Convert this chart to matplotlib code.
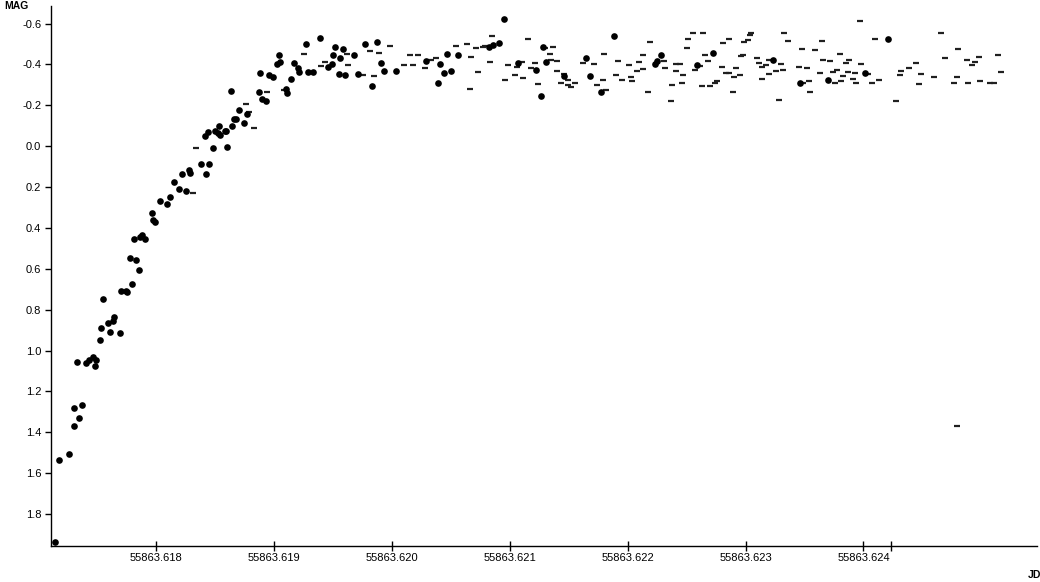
import numpy as np
import matplotlib.pyplot as plt

plt.rcParams['font.family'] = ['Liberation Sans', 'DejaVu Sans']
plt.rcParams['axes.unicode_minus'] = False

# measured points (filled circles)
dot_jd = [
    55863.61714, 55863.61717, 55863.61726, 55863.61730, 55863.61730, 55863.61734, 55863.61737,
    55863.61733, 55863.61740, 55863.61743, 55863.61746, 55863.61748, 55863.61749, 55863.61752,
    55863.61753, 55863.61755, 55863.61759, 55863.61761, 55863.61763, 55863.61764, 55863.61769,
    55863.61770, 55863.61774, 55863.61775, 55863.61779, 55863.61778, 55863.61783, 55863.61785,
    55863.61781, 55863.61786, 55863.61788, 55863.61790, 55863.61796, 55863.61797, 55863.61799,
    55863.61803, 55863.61809, 55863.61812, 55863.61815, 55863.61819, 55863.61825, 55863.61822,
    55863.61828, 55863.61829, 55863.61838, 55863.61842, 55863.61841, 55863.61844, 55863.61845,
    55863.61848, 55863.61850, 55863.61852, 55863.61853, 55863.61854, 55863.61858, 55863.61859,
    55863.61860, 55863.61863, 55863.61864, 55863.61866, 55863.61868, 55863.61870, 55863.61874,
    55863.61877, 55863.61887, 55863.61888, 55863.61890, 55863.61893, 55863.61896, 55863.61899,
    55863.61902, 55863.61904, 55863.61905, 55863.61910, 55863.61911, 55863.61914, 55863.61917,
    55863.61920, 55863.61921, 55863.61927, 55863.61929, 55863.61933, 55863.61939, 55863.61946,
    55863.61949, 55863.61950, 55863.61952, 55863.61955, 55863.61956, 55863.61958, 55863.61960,
    55863.61968, 55863.61971, 55863.61977, 55863.61983, 55863.61987, 55863.61991, 55863.61993,
    55863.62003, 55863.62029, 55863.62039, 55863.62041, 55863.62044, 55863.62047, 55863.62050,
    55863.62056, 55863.62082, 55863.62086, 55863.62091, 55863.62095, 55863.62107, 55863.62122,
    55863.62126, 55863.62128, 55863.62131, 55863.62146, 55863.62165, 55863.62168, 55863.62177,
    55863.62188, 55863.62223, 55863.62225, 55863.62228, 55863.62259, 55863.62272, 55863.62323,
    55863.62346, 55863.62370, 55863.62401, 55863.62421,
]
dot_mag = [
    1.938, 1.537, 1.508, 1.371, 1.283, 1.332, 1.268,
    1.058, 1.063, 1.048, 1.033, 1.077, 1.048, 0.950,
    0.891, 0.750, 0.867, 0.911, 0.857, 0.838, 0.916,
    0.711, 0.711, 0.715, 0.676, 0.549, 0.559, 0.608,
    0.456, 0.446, 0.437, 0.456, 0.329, 0.363, 0.373,
    0.270, 0.285, 0.251, 0.173, 0.212, 0.217, 0.138,
    0.119, 0.129, 0.085, 0.138, -0.052, -0.067, 0.089,
    0.011, -0.072, -0.062, -0.101, -0.057, -0.072, -0.072,
    0.006, -0.272, -0.101, -0.131, -0.131, -0.179, -0.111,
    -0.155, -0.263, -0.356, -0.233, -0.219, -0.346, -0.336,
    -0.400, -0.448, -0.414, -0.282, -0.258, -0.331, -0.409,
    -0.380, -0.365, -0.502, -0.365, -0.365, -0.527, -0.385,
    -0.404, -0.448, -0.483, -0.351, -0.429, -0.476, -0.346,
    -0.448, -0.351, -0.502, -0.292, -0.512, -0.409, -0.370,
    -0.370, -0.419, -0.311, -0.400, -0.360, -0.453, -0.370,
    -0.448, -0.483, -0.497, -0.507, -0.624, -0.409, -0.375,
    -0.243, -0.483, -0.414, -0.341, -0.429, -0.341, -0.267,
    -0.541, -0.404, -0.419, -0.444, -0.395, -0.458, -0.424,
    -0.307, -0.326, -0.356, -0.522,
]

# short dashes
dash_jd = [
    55863.61831, 55863.61834, 55863.61876, 55863.61879, 55863.61883, 55863.61894, 55863.61908,
    55863.61925, 55863.61940, 55863.61943, 55863.61962, 55863.61963, 55863.61975, 55863.61981,
    55863.61985, 55863.61989, 55863.61998, 55863.62010, 55863.62015, 55863.62018, 55863.62022,
    55863.62028, 55863.62033, 55863.62037, 55863.62054, 55863.62064, 55863.62066, 55863.62067,
    55863.62071, 55863.62073, 55863.62077, 55863.62079, 55863.62083, 55863.62085, 55863.62096,
    55863.62098, 55863.62104, 55863.62106, 55863.62110, 55863.62111, 55863.62115, 55863.62118,
    55863.62121, 55863.62124, 55863.62130, 55863.62134, 55863.62135, 55863.62137, 55863.62140,
    55863.62140, 55863.62143, 55863.62146, 55863.62149, 55863.62149, 55863.62152, 55863.62155,
    55863.62162, 55863.62171, 55863.62174, 55863.62179, 55863.62180, 55863.62182, 55863.62190,
    55863.62192, 55863.62195, 55863.62201, 55863.62203, 55863.62204, 55863.62208, 55863.62210,
    55863.62213, 55863.62213, 55863.62217, 55863.62219, 55863.62231, 55863.62232, 55863.62237,
    55863.62238, 55863.62241, 55863.62241, 55863.62244, 55863.62246, 55863.62247, 55863.62250,
    55863.62251, 55863.62255, 55863.62257, 55863.62261, 55863.62263, 55863.62264, 55863.62266,
    55863.62268, 55863.62270, 55863.62274, 55863.62276, 55863.62280, 55863.62281, 55863.62283,
    55863.62286, 55863.62286, 55863.62289, 55863.62290, 55863.62292, 55863.62295, 55863.62296,
    55863.62298, 55863.62299, 55863.62302, 55863.62304, 55863.62305, 55863.62310, 55863.62311,
    55863.62314, 55863.62314, 55863.62317, 55863.62320, 55863.62320, 55863.62326, 55863.62328,
    55863.62330, 55863.62332, 55863.62333, 55863.62336, 55863.62345, 55863.62348, 55863.62349,
    55863.62352, 55863.62354, 55863.62355, 55863.62359, 55863.62363, 55863.62365, 55863.62366,
    55863.62372, 55863.62374, 55863.62376, 55863.62378, 55863.62380, 55863.62381, 55863.62383,
    55863.62385, 55863.62387, 55863.62388, 55863.62391, 55863.62393, 55863.62394, 55863.62397,
    55863.62398, 55863.62404, 55863.62407, 55863.62410, 55863.62413, 55863.62428, 55863.62431,
    55863.62432, 55863.62439, 55863.62445, 55863.62447, 55863.62449, 55863.62460, 55863.62466,
    55863.62469, 55863.62477, 55863.62479, 55863.62480, 55863.62488, 55863.62489, 55863.62492,
    55863.62495, 55863.62498, 55863.62499, 55863.62507, 55863.62511, 55863.62514, 55863.62517,
    55863.62479,
]
dash_mag = [
    0.231, 0.011, -0.204, -0.165, -0.087, -0.266, -0.277,
    -0.451, -0.393, -0.412, -0.453, -0.395, -0.346, -0.465,
    -0.341, -0.458, -0.488, -0.395, -0.446, -0.395, -0.444,
    -0.381, -0.424, -0.429, -0.492, -0.502, -0.280, -0.434,
    -0.478, -0.365, -0.486, -0.492, -0.412, -0.541, -0.326,
    -0.395, -0.346, -0.385, -0.414, -0.334, -0.522, -0.381,
    -0.409, -0.302, -0.478, -0.451, -0.424, -0.483, -0.368,
    -0.416, -0.311, -0.351, -0.326, -0.297, -0.290, -0.311,
    -0.409, -0.401, -0.298, -0.324, -0.451, -0.275, -0.346,
    -0.419, -0.326, -0.395, -0.336, -0.319, -0.368, -0.414,
    -0.445, -0.378, -0.264, -0.510, -0.416, -0.380, -0.223,
    -0.300, -0.400, -0.370, -0.400, -0.311, -0.346, -0.478,
    -0.522, -0.554, -0.375, -0.391, -0.292, -0.556, -0.448,
    -0.419, -0.292, -0.307, -0.321, -0.388, -0.505, -0.356,
    -0.522, -0.356, -0.267, -0.337, -0.380, -0.347, -0.442,
    -0.448, -0.512, -0.520, -0.543, -0.556, -0.429, -0.409,
    -0.329, -0.386, -0.395, -0.352, -0.424, -0.370, -0.228,
    -0.400, -0.373, -0.556, -0.513, -0.385, -0.473, -0.310,
    -0.380, -0.321, -0.266, -0.469, -0.356, -0.513, -0.421,
    -0.419, -0.365, -0.307, -0.375, -0.450, -0.318, -0.341,
    -0.407, -0.363, -0.421, -0.328, -0.357, -0.311, -0.610,
    -0.404, -0.354, -0.311, -0.522, -0.323, -0.220, -0.349,
    -0.367, -0.380, -0.407, -0.303, -0.354, -0.336, -0.556,
    -0.429, -0.310, -0.339, -0.473, -0.424, -0.307, -0.398,
    -0.412, -0.435, -0.321, -0.307, -0.311, -0.446, -0.363,
    1.368,
]

x_ticks = [55863.618, 55863.619, 55863.620, 55863.621, 55863.622, 55863.623, 55863.624]
x_extra_tick = [55863.62423]
y_ticks = [-0.6, -0.4, -0.2, 0.0, 0.2, 0.4, 0.6, 0.8, 1.0, 1.2, 1.4, 1.6, 1.8]

fig = plt.figure(figsize=(10.4, 5.82), dpi=100)
ax = fig.add_axes([0.049, 0.0624, 0.948, 0.927])

ax.plot(dash_jd, dash_mag, ls='none', marker='_', ms=4.6, mew=1.6, color='#202020')
ax.plot(dot_jd, dot_mag, ls='none', marker='o', ms=4.8, mew=0, color='black')

ax.set_xlim(55863.617106, 55863.625472)
ax.set_ylim(1.955, -0.685)

ax.set_xticks(x_ticks)
ax.set_xticklabels([f'{v:.3f}' for v in x_ticks])
ax.set_xticks(x_extra_tick, minor=True)
ax.set_yticks(y_ticks)
ax.set_yticklabels([f'{v:.1f}' for v in y_ticks])

for s in ['top', 'right']:
    ax.spines[s].set_visible(False)
for s in ['left', 'bottom']:
    ax.spines[s].set_linewidth(1.0)
    ax.spines[s].set_color('black')

ax.tick_params(axis='x', which='both', direction='inout', length=7, width=1, labelsize=8, pad=2)
ax.tick_params(axis='y', direction='out', length=4, width=1, labelsize=8, pad=3)

fig.text(4 / 1040, 1 - 6 / 582, 'MAG', fontsize=7.5, fontweight='bold', ha='left', va='center')
fig.text(1028 / 1040, 1 - 575 / 582, 'JD', fontsize=7.5, fontweight='bold', ha='left', va='center')

fig.savefig('out.png', dpi=100)
